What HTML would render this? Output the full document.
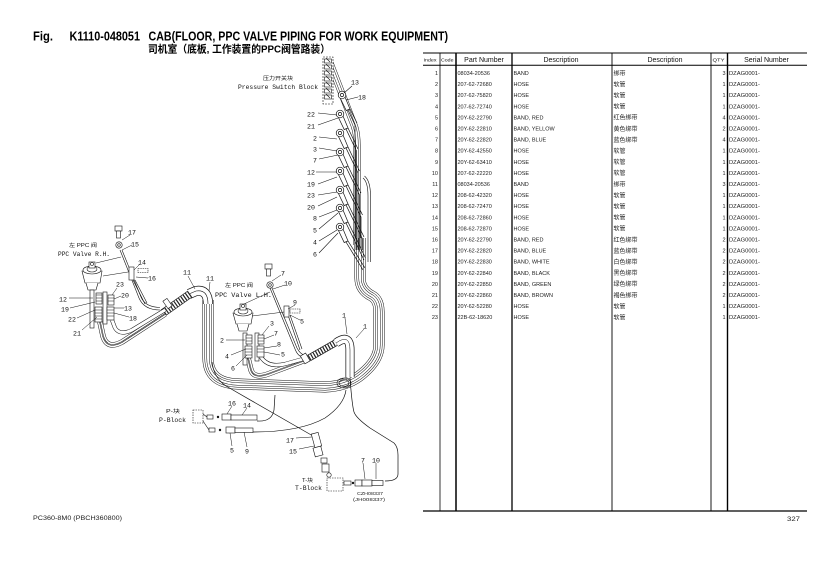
<!DOCTYPE html>
<html><head><meta charset="utf-8">
<style>
html,body{margin:0;padding:0;background:#fff;}
svg{display:block;}
</style></head><body>
<svg width="840" height="564" viewBox="0 0 840 564" xmlns="http://www.w3.org/2000/svg" xmlns:xlink="http://www.w3.org/1999/xlink">
<rect width="840" height="564" fill="#fff"/>
<defs>
<path id="loop" fill="none" d="M 360 238 L 360 278 Q 360 290 372 296 Q 379 300 379 312 L 379 345 Q 379 360 362 374 Q 348 386 325 387 L 238 384 Q 208 383 208 358 L 208 300"/>
<path id="ub" fill="none" d="M 330 63 L 354 125 Q 357 133 357 145 L 357 245"/>
<path id="e11" fill="none" d="M 208 304 Q 208 289 196 291 L 189 294"/>
<path id="bh" fill="none" d="M 190 294 L 163 313"/>
<path id="r1" fill="none" d="M 100 322 L 103 336 Q 107 350 122 342 L 165 314"/>
<path id="r2" fill="none" d="M 112 320 L 115 328 Q 120 336 132 330 L 165 310"/>
<path id="l1" fill="none" d="M 248 358 L 251 370 Q 254 379 268 374 L 303 361"/>
<path id="l2" fill="none" d="M 261 357 Q 268 368 285 364 L 303 359"/>
<path id="bh2" fill="none" d="M 309 358 L 337 342"/>
<path id="e1" fill="none" d="M 336 343 Q 350 333 350 350 L 350 377"/>
<g id="ft" fill="#fff" stroke="#111" stroke-width="0.7">
<path d="M -1.8 3 L 4.2 15.5 L 8 14 L 2.8 1.5 Z"/>
<circle r="3.8"/>
<circle r="1.6"/>
</g>
</defs>

<!-- Title -->
<g font-family="Liberation Sans, Arial, sans-serif" font-weight="bold" fill="#000">
<text x="33" y="40.5" font-size="12.6" textLength="20" lengthAdjust="spacingAndGlyphs">Fig.</text>
<text x="69.5" y="40.5" font-size="12.6" textLength="70.5" lengthAdjust="spacingAndGlyphs">K1110-048051</text>
<text x="148.5" y="40.5" font-size="12.6" textLength="299.5" lengthAdjust="spacingAndGlyphs">CAB(FLOOR, PPC VALVE PIPING FOR WORK EQUIPMENT)</text>
</g>
<text x="148" y="52.5" font-family="Liberation Sans, 'Noto Sans CJK SC', sans-serif" font-weight="bold" font-size="10.5" textLength="182" lengthAdjust="spacingAndGlyphs">司机室（底板, 工作装置的PPC阀管路装）</text>

<!-- Table lines -->
<g stroke="#000">
<line x1="423" y1="53" x2="807" y2="53" stroke-width="1"/>
<line x1="423" y1="65.3" x2="807" y2="65.3" stroke-width="1"/>
<line x1="423" y1="511" x2="807" y2="511" stroke-width="1.2"/>
<line x1="440" y1="53" x2="440" y2="511" stroke-width="0.8"/>
<line x1="456" y1="53" x2="456" y2="511" stroke-width="1.5"/>
<line x1="512" y1="53" x2="512" y2="511" stroke-width="1.3"/>
<line x1="612" y1="53" x2="612" y2="511" stroke-width="0.9"/>
<line x1="711" y1="53" x2="711" y2="511" stroke-width="0.9"/>
<line x1="727.5" y1="53" x2="727.5" y2="511" stroke-width="1.4"/>
</g>
<!-- Table header -->
<g font-family="Liberation Sans, Arial, sans-serif" fill="#111">
<text x="423.5" y="61.5" font-size="4.6" textLength="13" lengthAdjust="spacingAndGlyphs">Index</text>
<text x="441" y="61.5" font-size="4.6" textLength="12.5" lengthAdjust="spacingAndGlyphs">Code</text>
<text x="484" y="62" font-size="7" text-anchor="middle">Part Number</text>
<text x="561" y="62" font-size="7" text-anchor="middle">Description</text>
<text x="665" y="62" font-size="7" text-anchor="middle">Description</text>
<text x="712.5" y="61.5" font-size="4.4" textLength="12" lengthAdjust="spacingAndGlyphs">QTY</text>
<text x="766.5" y="62" font-size="7" text-anchor="middle">Serial Number</text>
</g>

<!-- Table rows -->
<g font-family="Liberation Sans, Arial, sans-serif" font-size="5.5" fill="#222" text-anchor="end">
<text x="438" y="75">1</text><text x="438" y="86.1">2</text><text x="438" y="97.2">3</text><text x="438" y="108.3">4</text>
<text x="438" y="119.4">5</text><text x="438" y="130.5">6</text><text x="438" y="141.6">7</text><text x="438" y="152.7">8</text>
<text x="438" y="163.8">9</text><text x="438" y="174.9">10</text><text x="438" y="186">11</text><text x="438" y="197.1">12</text>
<text x="438" y="208.2">13</text><text x="438" y="219.3">14</text><text x="438" y="230.4">15</text><text x="438" y="241.5">16</text>
<text x="438" y="252.6">17</text><text x="438" y="263.7">18</text><text x="438" y="274.8">19</text><text x="438" y="285.9">20</text>
<text x="438" y="297">21</text><text x="438" y="308.1">22</text><text x="438" y="319.2">23</text>
</g>
<g font-family="Liberation Sans, Arial, sans-serif" font-size="5.5" fill="#222">
<text x="457.5" y="75">08034-20536</text><text x="457.5" y="86.1">207-62-72680</text><text x="457.5" y="97.2">207-62-75820</text><text x="457.5" y="108.3">207-62-72740</text>
<text x="457.5" y="119.4">20Y-62-22790</text><text x="457.5" y="130.5">20Y-62-22810</text><text x="457.5" y="141.6">20Y-62-22820</text><text x="457.5" y="152.7">20Y-62-42550</text>
<text x="457.5" y="163.8">20Y-62-63410</text><text x="457.5" y="174.9">207-62-22220</text><text x="457.5" y="186">08034-20536</text><text x="457.5" y="197.1">208-62-42320</text>
<text x="457.5" y="208.2">208-62-72470</text><text x="457.5" y="219.3">208-62-72860</text><text x="457.5" y="230.4">208-62-72870</text><text x="457.5" y="241.5">20Y-62-22790</text>
<text x="457.5" y="252.6">20Y-62-22820</text><text x="457.5" y="263.7">20Y-62-22830</text><text x="457.5" y="274.8">20Y-62-22840</text><text x="457.5" y="285.9">20Y-62-22850</text>
<text x="457.5" y="297">20Y-62-22860</text><text x="457.5" y="308.1">20Y-62-52280</text><text x="457.5" y="319.2">22B-62-18620</text>
</g>
<g font-family="Liberation Sans, Arial, sans-serif" font-size="5.5" fill="#222">
<text x="513.5" y="75">BAND</text><text x="513.5" y="86.1">HOSE</text><text x="513.5" y="97.2">HOSE</text><text x="513.5" y="108.3">HOSE</text>
<text x="513.5" y="119.4">BAND,  RED</text><text x="513.5" y="130.5">BAND,  YELLOW</text><text x="513.5" y="141.6">BAND,  BLUE</text><text x="513.5" y="152.7">HOSE</text>
<text x="513.5" y="163.8">HOSE</text><text x="513.5" y="174.9">HOSE</text><text x="513.5" y="186">BAND</text><text x="513.5" y="197.1">HOSE</text>
<text x="513.5" y="208.2">HOSE</text><text x="513.5" y="219.3">HOSE</text><text x="513.5" y="230.4">HOSE</text><text x="513.5" y="241.5">BAND,  RED</text>
<text x="513.5" y="252.6">BAND,  BLUE</text><text x="513.5" y="263.7">BAND,  WHITE</text><text x="513.5" y="274.8">BAND,  BLACK</text><text x="513.5" y="285.9">BAND,  GREEN</text>
<text x="513.5" y="297">BAND,  BROWN</text><text x="513.5" y="308.1">HOSE</text><text x="513.5" y="319.2">HOSE</text>
</g>
<g font-family="Liberation Sans, 'Noto Sans CJK SC', sans-serif" font-size="6" fill="#222">
<text x="613.5" y="75.3">绑带</text><text x="613.5" y="86.4">软管</text><text x="613.5" y="97.5">软管</text><text x="613.5" y="108.6">软管</text>
<text x="613.5" y="119.7">红色绑带</text><text x="613.5" y="130.8">黄色绑带</text><text x="613.5" y="141.9">蓝色绑带</text><text x="613.5" y="153">软管</text>
<text x="613.5" y="164.1">软管</text><text x="613.5" y="175.2">软管</text><text x="613.5" y="186.3">绑带</text><text x="613.5" y="197.4">软管</text>
<text x="613.5" y="208.5">软管</text><text x="613.5" y="219.6">软管</text><text x="613.5" y="230.7">软管</text><text x="613.5" y="241.8">红色绑带</text>
<text x="613.5" y="252.9">蓝色绑带</text><text x="613.5" y="264">白色绑带</text><text x="613.5" y="275.1">黑色绑带</text><text x="613.5" y="286.2">绿色绑带</text>
<text x="613.5" y="297.3">褐色绑带</text><text x="613.5" y="308.4">软管</text><text x="613.5" y="319.5">软管</text>
</g>
<g font-family="Liberation Sans, Arial, sans-serif" font-size="5.5" fill="#222" text-anchor="end">
<text x="725.5" y="75">3</text><text x="725.5" y="86.1">1</text><text x="725.5" y="97.2">1</text><text x="725.5" y="108.3">1</text>
<text x="725.5" y="119.4">4</text><text x="725.5" y="130.5">2</text><text x="725.5" y="141.6">4</text><text x="725.5" y="152.7">1</text>
<text x="725.5" y="163.8">1</text><text x="725.5" y="174.9">1</text><text x="725.5" y="186">3</text><text x="725.5" y="197.1">1</text>
<text x="725.5" y="208.2">1</text><text x="725.5" y="219.3">1</text><text x="725.5" y="230.4">1</text><text x="725.5" y="241.5">2</text>
<text x="725.5" y="252.6">2</text><text x="725.5" y="263.7">2</text><text x="725.5" y="274.8">2</text><text x="725.5" y="285.9">2</text>
<text x="725.5" y="297">2</text><text x="725.5" y="308.1">1</text><text x="725.5" y="319.2">1</text>
</g>
<g font-family="Liberation Sans, Arial, sans-serif" font-size="5.8" fill="#222">
<text x="729" y="75">DZAG0001-</text><text x="729" y="86.1">DZAG0001-</text><text x="729" y="97.2">DZAG0001-</text><text x="729" y="108.3">DZAG0001-</text>
<text x="729" y="119.4">DZAG0001-</text><text x="729" y="130.5">DZAG0001-</text><text x="729" y="141.6">DZAG0001-</text><text x="729" y="152.7">DZAG0001-</text>
<text x="729" y="163.8">DZAG0001-</text><text x="729" y="174.9">DZAG0001-</text><text x="729" y="186">DZAG0001-</text><text x="729" y="197.1">DZAG0001-</text>
<text x="729" y="208.2">DZAG0001-</text><text x="729" y="219.3">DZAG0001-</text><text x="729" y="230.4">DZAG0001-</text><text x="729" y="241.5">DZAG0001-</text>
<text x="729" y="252.6">DZAG0001-</text><text x="729" y="263.7">DZAG0001-</text><text x="729" y="274.8">DZAG0001-</text><text x="729" y="285.9">DZAG0001-</text>
<text x="729" y="297">DZAG0001-</text><text x="729" y="308.1">DZAG0001-</text><text x="729" y="319.2">DZAG0001-</text>
</g>

<!-- Footer -->
<text x="33" y="520" font-family="Liberation Sans, Arial, sans-serif" font-size="6.3" fill="#222" textLength="89" lengthAdjust="spacingAndGlyphs">PC360-8M0 (PBCH360800)</text>
<text x="787" y="521" font-family="Liberation Sans, Arial, sans-serif" font-size="6" fill="#222" textLength="13" lengthAdjust="spacingAndGlyphs">327</text>

<!-- ===== DIAGRAM ===== -->
<!-- Upper bundle -->
<use xlink:href="#ub" href="#ub" stroke="#111" stroke-width="7"/>
<use xlink:href="#ub" href="#ub" stroke="#fff" stroke-width="6"/>
<use xlink:href="#ub" href="#ub" stroke="#111" stroke-width="3"/>
<use xlink:href="#ub" href="#ub" stroke="#fff" stroke-width="2"/>
<!-- bump -->
<path d="M 363 178 Q 368 182 368 196 L 368 262 M 364.5 176 Q 370.5 181 370.5 196 L 370.5 262" fill="none" stroke="#111" stroke-width="0.6"/>
<!-- Main loop -->
<use xlink:href="#loop" href="#loop" stroke="#111" stroke-width="11"/>
<use xlink:href="#loop" href="#loop" stroke="#fff" stroke-width="10"/>
<use xlink:href="#loop" href="#loop" stroke="#111" stroke-width="7"/>
<use xlink:href="#loop" href="#loop" stroke="#fff" stroke-width="6"/>
<use xlink:href="#loop" href="#loop" stroke="#111" stroke-width="3"/>
<use xlink:href="#loop" href="#loop" stroke="#fff" stroke-width="2"/>

<!-- fitting hoses to bundle -->
<g fill="none" stroke="#111" stroke-width="0.7">
<path d="M 348 110 L 355 125 L 355 250"/>
<path d="M 346 129 L 356.5 151 L 356.5 250"/>
<path d="M 346 148 L 358 173 L 358 250"/>
<path d="M 346 167 L 359.5 195 L 359.5 250"/>
<path d="M 346 186 L 361 217 L 361 250"/>
<path d="M 346 205 L 362.5 239 L 362.5 250"/>
<path d="M 346 223 L 364 260"/>
<path d="M 346 242 L 363 270"/>
<path d="M 350 109 L 357 123 M 348 128 L 358 149 M 348 147 L 359.5 171 M 348 166 L 361 193 M 348 185 L 362.5 215 M 348 204 L 364 237 M 348 222 L 365.5 258 M 348 241 L 365 268"/>
</g>

<!-- Pressure switch block -->
<rect x="323" y="57" width="10" height="47" fill="#fff" stroke="#111" stroke-width="0.6" stroke-dasharray="2 1"/>
<g fill="none" stroke="#111" stroke-width="0.6">
<rect x="324.5" y="59" width="7" height="4"/><rect x="324.5" y="65" width="7" height="4"/>
<rect x="324.5" y="71" width="7" height="4"/><rect x="324.5" y="77" width="7" height="4"/>
<rect x="324.5" y="83" width="7" height="4"/><rect x="324.5" y="89" width="7" height="4"/>
<rect x="324.5" y="95" width="7" height="4"/>
<path d="M 326 58 L 330 62 M 326 64 L 330 68 M 326 70 L 330 74 M 326 76 L 330 80 M 326 82 L 330 86 M 326 88 L 330 92 M 326 94 L 330 98"/>
</g>

<!-- fittings right -->
<use xlink:href="#ft" href="#ft" x="342" y="95"/>
<use xlink:href="#ft" href="#ft" x="340" y="114"/>
<use xlink:href="#ft" href="#ft" x="340" y="133"/>
<use xlink:href="#ft" href="#ft" x="340" y="152"/>
<use xlink:href="#ft" href="#ft" x="340" y="171"/>
<use xlink:href="#ft" href="#ft" x="340" y="190"/>
<use xlink:href="#ft" href="#ft" x="340" y="208"/>
<use xlink:href="#ft" href="#ft" x="340" y="227"/>

<!-- leader lines top -->
<g stroke="#111" stroke-width="0.55" fill="none">
<path d="M 352 86 L 344 93"/>
<path d="M 358 97 L 346 100"/>
<path d="M 318 113 L 337 115"/>
<path d="M 318 125 L 338 118"/>
<path d="M 319 137 L 337 139"/>
<path d="M 319 148 L 337 151"/>
<path d="M 319 159 L 338 155"/>
<path d="M 316 172 L 337 172"/>
<path d="M 318 184 L 337 177"/>
<path d="M 318 195 L 337 192"/>
<path d="M 318 206 L 337 197"/>
<path d="M 319 217 L 337 210"/>
<path d="M 319 229 L 338 213"/>
<path d="M 319 241 L 337 230"/>
<path d="M 319 253 L 338 233"/>
</g>

<!-- Left elbow 11 + banded hose -->
<use xlink:href="#e11" href="#e11" stroke="#111" stroke-width="10"/>
<use xlink:href="#e11" href="#e11" stroke="#fff" stroke-width="8.6"/>
<use xlink:href="#e11" href="#e11" stroke="#111" stroke-width="0.6"/>
<use xlink:href="#bh" href="#bh" stroke="#111" stroke-width="8"/>
<use xlink:href="#bh" href="#bh" stroke="#fff" stroke-width="6.6"/>
<use xlink:href="#bh" href="#bh" stroke="#222" stroke-width="6.6" stroke-dasharray="1.2 1.6"/>
<rect x="165" y="299" width="5" height="9" fill="#fff" stroke="#111" stroke-width="0.6" transform="rotate(-35 167.5 303.5)"/>

<!-- R.H. hoses -->
<use xlink:href="#r1" href="#r1" stroke="#111" stroke-width="5.4"/>
<use xlink:href="#r1" href="#r1" stroke="#fff" stroke-width="4.4"/>
<use xlink:href="#r1" href="#r1" stroke="#111" stroke-width="1.4"/>
<use xlink:href="#r1" href="#r1" stroke="#fff" stroke-width="0.4"/>
<use xlink:href="#r2" href="#r2" stroke="#111" stroke-width="4"/>
<use xlink:href="#r2" href="#r2" stroke="#fff" stroke-width="3"/>
<g fill="none" stroke="#111" stroke-width="0.6">
<path d="M 120 250 L 139 298 Q 144 310 160 310"/>
<path d="M 122 250 L 141 297 Q 145 307 160 307.5"/>
<path d="M 133 280 L 145 304 M 135 280 L 147 303"/>
</g>

<!-- R.H. valve -->
<g fill="#fff" stroke="#111" stroke-width="0.6">
<path d="M 82 271 L 102 271 L 100 283 L 85 283 Z"/>
<ellipse cx="92" cy="270" rx="9" ry="4"/>
<ellipse cx="92" cy="269" rx="5" ry="3"/>
<rect x="89" y="262" width="6" height="6"/>
<circle cx="92" cy="264" r="1.5"/>
<path d="M 86 283 L 88 290 L 96 290 L 98 283" />
<rect x="90" y="290" width="4" height="38"/>
<rect x="103" y="292" width="4" height="32"/>
<rect x="96" y="293" width="6" height="11"/>
<rect x="95" y="307" width="7" height="15"/>
<rect x="108" y="295" width="6" height="10"/>
<rect x="107" y="307" width="7" height="13"/>
</g>
<g stroke="#111" stroke-width="0.5">
<path d="M 96 295 L 102 295 M 96 298 L 102 298 M 96 301 L 102 301 M 95 310 L 102 310 M 95 313 L 102 313 M 95 316 L 102 316 M 95 319 L 102 319 M 108 298 L 114 298 M 108 301 L 114 301 M 107 310 L 114 310 M 107 313 L 114 313 M 107 316 L 114 316"/>
</g>
<!-- R.H. bolts -->
<g fill="#fff" stroke="#111" stroke-width="0.6">
<rect x="115" y="226" width="7" height="5"/>
<rect x="116.5" y="231" width="4" height="7"/>
<circle cx="119" cy="245" r="3.2"/>
<circle cx="119" cy="245" r="1.3"/>
<rect x="129" y="267" width="5" height="13"/>
<rect x="138" y="268.5" width="10" height="4" stroke-dasharray="1.5 0.8"/>
</g>
<g stroke="#111" stroke-width="0.5" fill="none">
<path d="M 96 263 L 121 257"/>
<path d="M 103 276 L 128 272"/>
<path d="M 130 235 L 122 240"/>
<path d="M 132 245 L 122 250"/>
<path d="M 140 264 L 134 270"/>
<path d="M 148 278 L 136 277"/>
<path d="M 69 298 L 93 298"/>
<path d="M 70 308 L 95 302"/>
<path d="M 77 318 L 95 310"/>
<path d="M 82 330 L 97 317"/>
<path d="M 117 288 L 112 295"/>
<path d="M 121 296 L 114 299"/>
<path d="M 124 308 L 114 308"/>
<path d="M 129 317 L 114 313"/>
<path d="M 188 276 L 195 289"/>
<path d="M 210 282 L 209 291"/>
</g>

<!-- L.H. hoses -->
<use xlink:href="#l1" href="#l1" stroke="#111" stroke-width="5.4"/>
<use xlink:href="#l1" href="#l1" stroke="#fff" stroke-width="4.4"/>
<use xlink:href="#l1" href="#l1" stroke="#111" stroke-width="1.4"/>
<use xlink:href="#l1" href="#l1" stroke="#fff" stroke-width="0.4"/>
<use xlink:href="#l2" href="#l2" stroke="#111" stroke-width="4"/>
<use xlink:href="#l2" href="#l2" stroke="#fff" stroke-width="3"/>
<g fill="none" stroke="#111" stroke-width="0.6">
<path d="M 270 288 L 295 349 Q 298 357 305 358"/>
<path d="M 272 288 L 297 348 Q 300 354 305 355.5"/>
<path d="M 288 315 L 300 350 M 290 315 L 302 349"/>
</g>
<!-- band + hose to elbow 1 -->
<use xlink:href="#bh2" href="#bh2" stroke="#111" stroke-width="7"/>
<use xlink:href="#bh2" href="#bh2" stroke="#fff" stroke-width="5.6"/>
<use xlink:href="#bh2" href="#bh2" stroke="#222" stroke-width="5.6" stroke-dasharray="1.2 1.6"/>
<rect x="302" y="354" width="6" height="9" fill="#fff" stroke="#111" stroke-width="0.6" transform="rotate(-30 305 358)"/>
<use xlink:href="#e1" href="#e1" stroke="#111" stroke-width="9"/>
<use xlink:href="#e1" href="#e1" stroke="#fff" stroke-width="7.6"/>
<use xlink:href="#e1" href="#e1" stroke="#111" stroke-width="0.5"/>
<ellipse cx="344" cy="383" rx="7" ry="5" fill="none" stroke="#111" stroke-width="0.6"/>
<ellipse cx="344" cy="383" rx="5" ry="3.3" fill="none" stroke="#111" stroke-width="0.6"/>

<!-- L.H. valve -->
<g fill="#fff" stroke="#111" stroke-width="0.6">
<path d="M 233 313 L 253 313 L 251 324 L 236 324 Z"/>
<ellipse cx="243" cy="312" rx="9" ry="4"/>
<ellipse cx="243" cy="311" rx="5" ry="3"/>
<rect x="240" y="304" width="6" height="6"/>
<circle cx="243" cy="306" r="1.5"/>
<path d="M 237 324 L 239 331 L 247 331 L 249 324"/>
<rect x="243" y="333" width="4" height="32"/>
<rect x="255" y="333" width="4" height="28"/>
<rect x="246" y="335" width="6" height="9"/>
<rect x="245" y="346" width="7" height="12"/>
<rect x="258" y="335" width="6" height="9"/>
<rect x="257" y="346" width="7" height="11"/>
</g>
<g stroke="#111" stroke-width="0.5">
<path d="M 246 338 L 252 338 M 246 341 L 252 341 M 245 349 L 252 349 M 245 352 L 252 352 M 245 355 L 252 355 M 258 338 L 264 338 M 258 341 L 264 341 M 257 349 L 264 349 M 257 352 L 264 352"/>
</g>
<g fill="#fff" stroke="#111" stroke-width="0.6">
<rect x="265" y="264" width="7" height="5"/>
<rect x="266.5" y="269" width="4" height="7"/>
<circle cx="270" cy="285" r="3.2"/>
<circle cx="270" cy="285" r="1.3"/>
<rect x="284" y="306" width="5" height="11"/>
<rect x="290" y="309" width="10" height="4" stroke-dasharray="1.5 0.8"/>
</g>
<g stroke="#111" stroke-width="0.5" fill="none">
<path d="M 244 304 L 270 292"/>
<path d="M 252 316 L 284 312"/>
<path d="M 281 275 L 272 281"/>
<path d="M 285 285 L 273 289"/>
<path d="M 295 305 L 288 309"/>
<path d="M 300 320 L 290 315"/>
<path d="M 269 326 L 262 335"/>
<path d="M 274 335 L 264 339"/>
<path d="M 277 346 L 264 348"/>
<path d="M 280 355 L 264 352"/>
<path d="M 226 340 L 245 340"/>
<path d="M 231 355 L 246 349"/>
<path d="M 236 366 L 247 355"/>
<path d="M 345 318 L 347 334"/>
<path d="M 364 329 L 356 338"/>
</g>

<!-- long lines lower -->
<g fill="none" stroke="#111" stroke-width="0.7">
<path d="M 212 362 Q 214 378 226 386 L 313 436"/>
<path d="M 350 378 Q 352 405 354 412 Q 356 418 370 428 L 394 443 Q 398 447 398 455 L 398 474 Q 398 481 385 481"/>
<path d="M 257 421 Q 272 422 274 410 L 275 395"/>
<path d="M 253 432 Q 300 432 325 418 Q 344 405 346 390"/>
</g>

<!-- P-block -->
<rect x="193" y="410" width="10" height="13" fill="none" stroke="#111" stroke-width="0.6" stroke-dasharray="1.5 1"/>
<g fill="#fff" stroke="#111" stroke-width="0.6">
<rect x="207" y="415" width="6" height="4"/>
<rect x="222" y="414" width="9" height="6"/>
<rect x="231" y="415" width="26" height="5"/>
<rect x="209" y="428" width="6" height="4"/>
<rect x="226" y="427" width="9" height="6"/>
<rect x="235" y="428" width="18" height="4.5"/>
<circle cx="218" cy="417" r="0.9" fill="#111"/>
<circle cx="220" cy="430" r="0.9" fill="#111"/>
<path d="M 203 414 L 207 417 M 203 421 L 209 430"/>
</g>
<g stroke="#111" stroke-width="0.5" fill="none">
<path d="M 232 406 L 227 414"/>
<path d="M 247 408 L 242 415"/>
<path d="M 232 446 L 230 433"/>
<path d="M 247 447 L 244 432"/>
<path d="M 296 438 L 312 437"/>
<path d="M 299 449 L 314 446"/>
<path d="M 363 463 L 365 479"/>
<path d="M 376 463 L 376 479"/>
</g>
<!-- 17/15 fitting and parts -->
<g fill="#fff" stroke="#111" stroke-width="0.6">
<rect x="313" y="433" width="7" height="14" transform="rotate(-15 316.5 440)"/>
<rect x="314" y="447" width="8" height="9" transform="rotate(-15 318 451.5)"/>
<rect x="321" y="458" width="6" height="5"/>
<rect x="322" y="464" width="7" height="8"/>
<circle cx="329" cy="475" r="2.2"/>
<rect x="327" y="478" width="16" height="13" stroke-dasharray="1.5 1"/>
<rect x="344" y="481" width="7" height="4"/>
<rect x="355" y="480" width="7" height="6"/>
<rect x="362" y="480" width="10" height="6"/>
<rect x="372" y="480.5" width="11" height="5"/>
<circle cx="353" cy="483" r="0.9" fill="#111"/>
</g>

<!-- Diagram labels -->
<g font-family="Liberation Mono, 'DejaVu Sans Mono', monospace" font-size="6.6" fill="#111" text-anchor="middle">
<text x="355" y="84.5">13</text><text x="362" y="99.5">18</text>
<text x="311" y="116.5">22</text><text x="311" y="128.5">21</text><text x="315" y="140.5">2</text>
<text x="315" y="151.5">3</text><text x="315" y="162.5">7</text><text x="311" y="174.5">12</text>
<text x="311" y="186.5">19</text><text x="311" y="197.5">23</text><text x="311" y="209.5">20</text>
<text x="315" y="220.5">8</text><text x="315" y="232.5">5</text><text x="315" y="244.5">4</text>
<text x="315" y="256.5">6</text>
<text x="132" y="234.5">17</text><text x="135" y="246.5">15</text><text x="142" y="264.5">14</text>
<text x="152" y="280.5">16</text><text x="63" y="301.5">12</text><text x="65" y="311.5">19</text>
<text x="72" y="321.5">22</text><text x="77" y="335.5">21</text><text x="120" y="286.5">23</text>
<text x="125" y="297.5">20</text><text x="128" y="310.5">13</text><text x="133" y="320.5">18</text>
<text x="187" y="274.5">11</text><text x="210" y="280.5">11</text>
<text x="283" y="275.5">7</text><text x="288" y="285.5">10</text><text x="295" y="304.5">9</text>
<text x="302" y="323.5">5</text><text x="272" y="325.5">3</text><text x="276" y="335.5">7</text>
<text x="279" y="346.5">8</text><text x="283" y="356.5">5</text><text x="222" y="342.5">2</text>
<text x="227" y="358.5">4</text><text x="233" y="370.5">6</text><text x="344" y="317.5">1</text>
<text x="365" y="328.5">1</text>
<text x="232" y="405.5">16</text><text x="247" y="407.5">14</text><text x="232" y="452.5">5</text>
<text x="247" y="453.5">9</text><text x="290" y="442.5">17</text><text x="293" y="453.5">15</text>
<text x="363" y="462.5">7</text><text x="376" y="462.5">10</text>
</g>
<g font-family="Liberation Mono, 'DejaVu Sans Mono', monospace" fill="#111">
<text x="238" y="89" font-size="6.8" textLength="80" lengthAdjust="spacingAndGlyphs">Pressure Switch Block</text>
<text x="58" y="256" font-size="6.5" textLength="52" lengthAdjust="spacingAndGlyphs">PPC Valve R.H.</text>
<text x="215" y="297" font-size="6.5" textLength="57" lengthAdjust="spacingAndGlyphs">PPC Valve L.H.</text>
<text x="159" y="422" font-size="6.5" textLength="27" lengthAdjust="spacingAndGlyphs">P-Block</text>
<text x="295" y="490" font-size="6.5" textLength="27" lengthAdjust="spacingAndGlyphs">T-Block</text>
</g>
<g font-family="Liberation Sans, 'Noto Sans CJK SC', sans-serif" fill="#111" font-size="5.2">
<text x="263" y="80" textLength="30" lengthAdjust="spacingAndGlyphs">压力开关块</text>
<text x="69" y="247" textLength="28" lengthAdjust="spacingAndGlyphs">左 PPC 阀</text>
<text x="225" y="287" textLength="28" lengthAdjust="spacingAndGlyphs">左 PPC 阀</text>
<text x="166" y="413" textLength="14" lengthAdjust="spacingAndGlyphs">P-块</text>
<text x="302" y="482" textLength="11" lengthAdjust="spacingAndGlyphs">T-块</text>
</g>
<g font-family="Liberation Sans, Arial, sans-serif" fill="#222" font-size="4.3">
<text x="357" y="495" textLength="26" lengthAdjust="spacingAndGlyphs">CZH08337</text>
<text x="353" y="501" textLength="32" lengthAdjust="spacingAndGlyphs">(JH008337)</text>
</g>
</svg>
</body></html>
